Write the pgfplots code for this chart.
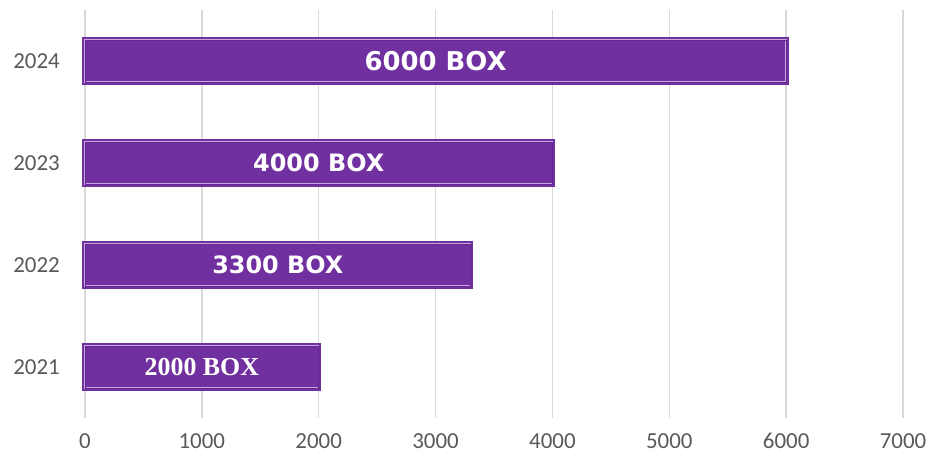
\documentclass[border=0pt]{standalone}
\usepackage{fontspec}
\setmainfont{Carlito}
\newfontfamily\dvs{DejaVu Sans}
\newfontfamily\lser{Liberation Serif}
\usepackage{pgfplots}
\pgfplotsset{compat=1.18}
\usetikzlibrary{shadows}
\definecolor{barpurple}{HTML}{7030A0}
\definecolor{baredge}{HTML}{62288F}
\definecolor{barlav}{HTML}{C8A6E2}
\definecolor{gridgray}{HTML}{D9D9D9}
\definecolor{ticktext}{HTML}{595959}
\begin{document}
\begin{tikzpicture}
\begin{axis}[
  scale only axis,
  width=818bp, height=408bp,
  xmin=0, xmax=7000,
  ymin=-0.5, ymax=3.5,
  xtick={0,1000,...,7000},
  ytick={0,1,2,3},
  yticklabels={2021,2022,2023,2024},
  xbar, bar width=42bp,
  axis line style={draw=none},
  major tick length=0pt,
  xmajorgrids,
  grid style={draw=gridgray, line width=1.5bp},
  /pgf/number format/.cd, 1000 sep={}, assume math mode=true, /pgfplots/.cd,
  tick label style={font=\fontsize{23}{26}\selectfont, text=ticktext},
  xticklabel style={anchor=base, yshift=-30bp, inner sep=0pt},
  yticklabel style={anchor=east, xshift=-25bp, inner sep=0pt},
  clip=false,
]
\addplot[fill=barpurple, draw=none,
  drop shadow={shadow xshift=2bp, shadow yshift=-3bp, opacity=0.35},
  postaction={draw=barpurple, line width=2bp, double=barlav, double distance=1.5bp, fill=none},
  postaction={draw=baredge, line width=0.8bp, fill=none, double=none}]
  coordinates {(2000,0) (3300,1) (4000,2) (6000,3)};
\node[text=white, font=\dvs\bfseries\fontsize{26}{30}\selectfont] at (axis cs:3000,3) {6000 BOX};
\node[text=white, font=\dvs\bfseries\fontsize{24}{28}\selectfont] at (axis cs:2000,2) {4000 BOX};
\node[text=white, font=\dvs\bfseries\fontsize{24}{28}\selectfont] at (axis cs:1650,1) {3300 BOX};
\node[text=white, font=\lser\bfseries\fontsize{26}{28}\selectfont] at (axis cs:1000,0) {2000 BOX};
\coordinate (bl) at (rel axis cs:0,0);
\coordinate (tr) at (rel axis cs:1,1);
\end{axis}
\path (bl) ++(-85bp,-40bp) coordinate (b1);
\path (tr) ++(32bp,10bp) coordinate (b2);
\path (b1) rectangle (b2);
\end{tikzpicture}
\end{document}
